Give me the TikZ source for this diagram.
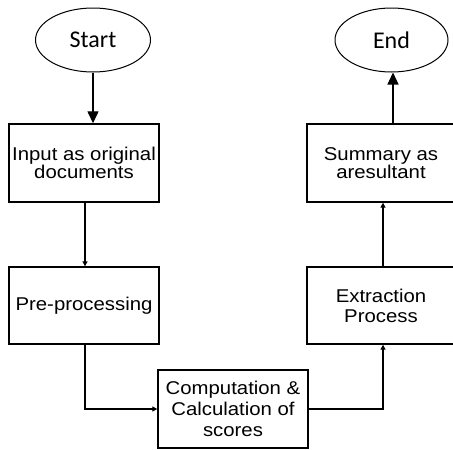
\documentclass[tikz,border=0pt]{standalone}
\usepackage{fontspec}
\setmainfont{Liberation Sans}[FakeStretch=1.1]
\newfontfamily\calfont{Carlito}
\usetikzlibrary{shapes.geometric,arrows.meta}
\begin{document}
\begin{tikzpicture}[x=1pt,y=-1pt,
  terminal/.style={ellipse,draw,line width=1pt,minimum width=115pt,minimum height=64pt,inner sep=0pt,font=\calfont\fontsize{24}{26}\selectfont},
  procbox/.style={draw,line width=1.4pt,minimum width=150pt,minimum height=78pt,inner sep=0pt,align=center,font=\fontsize{18.5}{17.5}\selectfont},
  bigarrow/.style={line width=1.3pt,-{Triangle[length=12pt,width=11pt]}},
  smallarrow/.style={line width=1.2pt,-{Triangle[length=5pt,width=5pt]}}]
\useasboundingbox (0,0) rectangle (453,450);
\node[terminal] (start) at (93,40) {Start};
\node[terminal,minimum width=113pt] (end) at (391.5,40) {End};
\node[procbox] (input) at (84,163) {Input as original\\documents};
\node[procbox,minimum width=148pt] (summary) at (381,163) {Summary as\\aresultant};
\node[procbox,minimum height=77pt] (pre) at (84,305.5) {Pre-processing};
\node[procbox,minimum width=148pt,minimum height=77pt,font=\fontsize{18.5}{20}\selectfont] (ext) at (381,305.5) {Extraction\\Process};
\node[procbox,font=\fontsize{18.5}{21}\selectfont] (comp) at (233,409) {Computation \&\\Calculation of\\scores};
\draw[bigarrow] (start.south -| 93,0) -- (93,0 |- input.north);
\draw[smallarrow] (input.south -| 85,0) -- (85,0 |- pre.north);
\draw[smallarrow] (pre.south -| 85,0) |- (comp.west);
\draw[smallarrow] (comp.east) -| (ext.south -| 383,0);
\draw[smallarrow] (ext.north -| 383,0) -- (383,0 |- summary.south);
\draw[bigarrow] (summary.north -| 393,0) -- (393,0 |- end.south);
\end{tikzpicture}
\end{document}
